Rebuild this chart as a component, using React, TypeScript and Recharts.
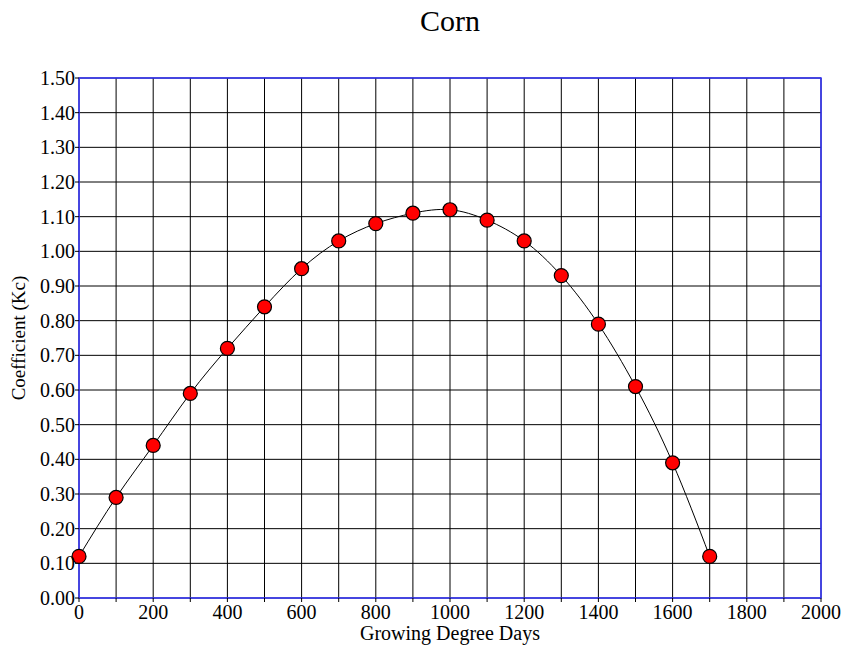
import React from 'react';
import { LineChart, Line, XAxis, YAxis, CartesianGrid, ReferenceArea, Label } from 'recharts';

const gdd = [0, 100, 200, 300, 400, 500, 600, 700, 800, 900, 1000, 1100, 1200, 1300, 1400, 1500, 1600, 1700];
const kc = [0.12, 0.29, 0.44, 0.59, 0.72, 0.84, 0.95, 1.03, 1.08, 1.11, 1.12, 1.09, 1.03, 0.93, 0.79, 0.61, 0.39, 0.12];
const xTicks = [0, 100, 200, 300, 400, 500, 600, 700, 800, 900, 1000, 1100, 1200, 1300, 1400, 1500, 1600, 1700, 1800, 1900, 2000];
const yTicks = [0, 0.1, 0.2, 0.3, 0.4, 0.5, 0.6, 0.7, 0.8, 0.9, 1.0, 1.1, 1.2, 1.3, 1.4, 1.5];

const data = gdd.map((g, i) => ({ gdd: g, kc: kc[i] }));

const FONT = '"Liberation Serif", "Times New Roman", serif';

export default function App() {
  return (
    <div style={{ position: 'absolute', left: 0, top: 0, width: 846, height: 647, background: '#fff' }}>
      <div
        style={{
          position: 'absolute',
          left: 0,
          top: 4,
          width: 900,
          textAlign: 'center',
          fontFamily: FONT,
          fontSize: 30,
          color: '#000',
        }}
      >
        Corn
      </div>
      <LineChart width={846} height={647} data={data} margin={{ top: 78, right: 25, bottom: 7, left: 0 }}>
        <CartesianGrid stroke="#000" strokeWidth={1} />
        <XAxis
          dataKey="gdd"
          type="number"
          domain={[0, 2000]}
          ticks={xTicks}
          interval={0}
          tickFormatter={(v: number) => (v % 200 === 0 ? String(v) : '')}
          axisLine={false}
          tickLine={{ stroke: '#000' }}
          tickSize={4}
          tickMargin={3}
          tick={{ fill: '#000', fontFamily: FONT, fontSize: 20 }}
          height={42}
        >
          <Label value="Growing Degree Days" position="insideBottom" offset={0} style={{ fill: '#000', fontFamily: FONT, fontSize: 20 }} />
        </XAxis>
        <YAxis
          type="number"
          domain={[0, 1.5]}
          ticks={yTicks}
          interval={0}
          tickFormatter={(v: number) => v.toFixed(2)}
          axisLine={false}
          tickLine={{ stroke: '#000' }}
          tickSize={4}
          tickMargin={0}
          tick={{ fill: '#000', fontFamily: FONT, fontSize: 20 }}
          width={79}
        >
          <Label
            value="Coefficient (Kc)"
            angle={-90}
            position="insideLeft"
            offset={18}
            style={{ textAnchor: 'middle', fill: '#000', fontFamily: FONT, fontSize: 19 }}
          />
        </YAxis>
        <ReferenceArea x1={0} x2={2000} y1={0} y2={1.5} fill="none" stroke="#3333ff" strokeWidth={1.5} fillOpacity={0} ifOverflow="visible" />
        <Line
          dataKey="kc"
          type="natural"
          stroke="#000"
          strokeWidth={1}
          isAnimationActive={false}
          dot={{ r: 7, fill: '#ff0000', stroke: '#000', strokeWidth: 1.2 }}
        />
      </LineChart>
    </div>
  );
}
